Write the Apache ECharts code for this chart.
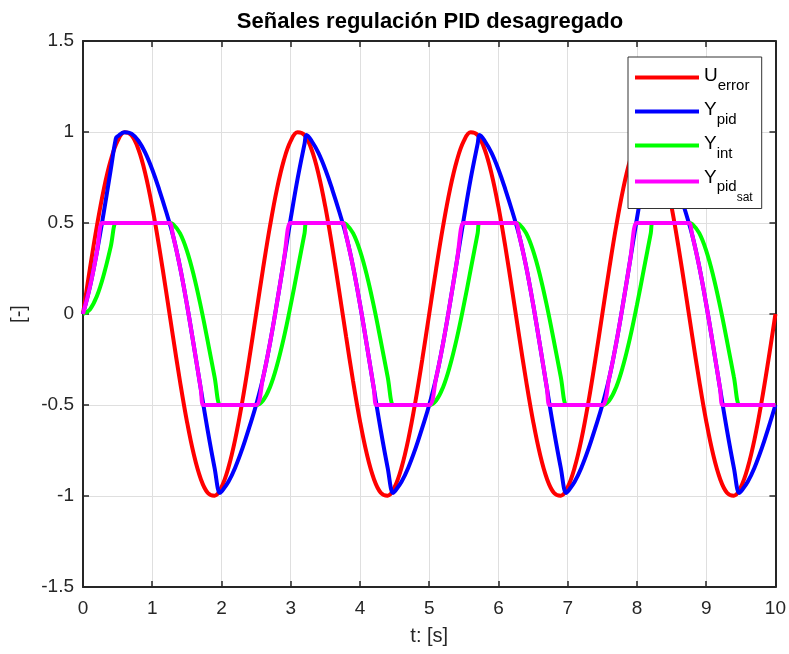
<!DOCTYPE html>
<html>
<head>
<meta charset="utf-8">
<script src="https://cdn.jsdelivr.net/npm/echarts@6/dist/echarts.min.js"></script>
<style>
html,body{margin:0;padding:0;background:#fff;}
#chart{width:789px;height:654px;}
</style>
</head>
<body>
<div id="chart"></div>
<script>
// time samples [s]
const t = [
  0,0.1,0.2,0.3,0.4,0.5,0.6,0.7,0.8,0.9,
  1,1.1,1.2,1.3,1.4,1.5,1.6,1.7,1.8,1.9,
  2,2.1,2.2,2.3,2.4,2.5,2.6,2.7,2.8,2.9,
  3,3.1,3.2,3.3,3.4,3.5,3.6,3.7,3.8,3.9,
  4,4.1,4.2,4.3,4.4,4.5,4.6,4.7,4.8,4.9,
  5,5.1,5.2,5.3,5.4,5.5,5.6,5.7,5.8,5.9,
  6,6.1,6.2,6.3,6.4,6.5,6.6,6.7,6.8,6.9,
  7,7.1,7.2,7.3,7.4,7.5,7.6,7.7,7.8,7.9,
  8,8.1,8.2,8.3,8.4,8.5,8.6,8.7,8.8,8.9,
  9,9.1,9.2,9.3,9.4,9.5,9.6,9.7,9.8,9.9,
  10
];

// U_error
const uError = [
  0,0.249,0.482,0.685,0.844,0.951,0.998,0.982,0.905,0.771,0.588,0.368,0.125,-0.125,-0.368,-0.588,-0.771,-0.905,-0.982,-0.998,-0.951,-0.844,-0.685,-0.482,-0.249,
  0,0.249,0.482,0.685,0.844,0.951,0.998,0.982,0.905,0.771,0.588,0.368,0.125,-0.125,-0.368,-0.588,-0.771,-0.905,-0.982,-0.998,-0.951,-0.844,-0.685,-0.482,-0.249,
  0,0.249,0.482,0.685,0.844,0.951,0.998,0.982,0.905,0.771,0.588,0.368,0.125,-0.125,-0.368,-0.588,-0.771,-0.905,-0.982,-0.998,-0.951,-0.844,-0.685,-0.482,-0.249,
  0,0.249,0.482,0.685,0.844,0.951,0.998,0.982,0.905,0.771,0.588,0.368,0.125,-0.125,-0.368,-0.588,-0.771,-0.905,-0.982,-0.998,-0.951,-0.844,-0.685,-0.482,-0.249,
  0
];

// Y_pid
const yPid = [
  0,0.149,0.339,0.558,0.792,0.976,0.999,0.991,0.952,0.885,0.794,0.684,0.563,0.431,0.260,0.054,-0.174,-0.409,-0.638,-0.845,-0.976,-0.922,-0.842,-0.741,-0.624,
  -0.5,-0.351,-0.161,0.058,0.292,0.525,0.745,0.936,0.952,0.885,0.794,0.684,0.563,0.431,0.260,0.054,-0.174,-0.409,-0.638,-0.845,-0.976,-0.922,-0.842,-0.741,-0.624,
  -0.5,-0.351,-0.161,0.058,0.292,0.525,0.745,0.936,0.952,0.885,0.794,0.684,0.563,0.431,0.260,0.054,-0.174,-0.409,-0.638,-0.845,-0.976,-0.922,-0.842,-0.741,-0.624,
  -0.5,-0.351,-0.161,0.058,0.292,0.525,0.745,0.936,0.952,0.885,0.794,0.684,0.563,0.431,0.260,0.054,-0.174,-0.409,-0.638,-0.845,-0.976,-0.922,-0.842,-0.741,-0.624,
  -0.5
];
const yPidPeaks = [
  [0.474,0.964],[1.978,-0.983],[3.228,0.983],[4.478,-0.983],
  [5.728,0.983],[6.978,-0.983],[8.228,0.983],[9.478,-0.983]
];

// Y_int
const yInt = [
  0,0.025,0.098,0.216,0.369,0.5,0.5,0.5,0.5,0.5,0.5,0.5,0.5,0.494,0.444,0.348,0.212,0.043,-0.147,-0.346,-0.5,-0.5,-0.5,-0.5,-0.5,
  -0.5,-0.475,-0.402,-0.284,-0.131,0.050,0.246,0.445,0.5,0.5,0.5,0.5,0.5,0.494,0.444,0.348,0.212,0.043,-0.147,-0.346,-0.5,-0.5,-0.5,-0.5,-0.5,
  -0.5,-0.475,-0.402,-0.284,-0.131,0.050,0.246,0.445,0.5,0.5,0.5,0.5,0.5,0.494,0.444,0.348,0.212,0.043,-0.147,-0.346,-0.5,-0.5,-0.5,-0.5,-0.5,
  -0.5,-0.475,-0.402,-0.284,-0.131,0.050,0.246,0.445,0.5,0.5,0.5,0.5,0.5,0.494,0.444,0.348,0.212,0.043,-0.147,-0.346,-0.5,-0.5,-0.5,-0.5,-0.5,
  -0.5
];
const yIntCorners = [
  [0.474,0.5],[1.25,0.5],[1.978,-0.5],
  [3.228,0.5],[3.75,0.5],[4.478,-0.5],
  [5.728,0.5],[6.25,0.5],[6.978,-0.5],
  [8.228,0.5],[8.75,0.5],[9.478,-0.5]
];

// Y_pid_sat
const yPidSat = [
  0,0.149,0.339,0.5,0.5,0.5,0.5,0.5,0.5,0.5,0.5,0.5,0.5,0.431,0.260,0.054,-0.174,-0.409,-0.5,-0.5,-0.5,-0.5,-0.5,-0.5,-0.5,
  -0.5,-0.351,-0.161,0.058,0.292,0.5,0.5,0.5,0.5,0.5,0.5,0.5,0.5,0.431,0.260,0.054,-0.174,-0.409,-0.5,-0.5,-0.5,-0.5,-0.5,-0.5,-0.5,
  -0.5,-0.351,-0.161,0.058,0.292,0.5,0.5,0.5,0.5,0.5,0.5,0.5,0.5,0.431,0.260,0.054,-0.174,-0.409,-0.5,-0.5,-0.5,-0.5,-0.5,-0.5,-0.5,
  -0.5,-0.351,-0.161,0.058,0.292,0.5,0.5,0.5,0.5,0.5,0.5,0.5,0.5,0.431,0.260,0.054,-0.174,-0.409,-0.5,-0.5,-0.5,-0.5,-0.5,-0.5,-0.5,
  -0.5
];
const yPidSatCorners = [
  [0.274,0.5],[1.25,0.5],[1.739,-0.5],
  [2.989,0.5],[3.75,0.5],[4.239,-0.5],
  [5.489,0.5],[6.25,0.5],[6.739,-0.5],
  [7.989,0.5],[8.75,0.5],[9.239,-0.5]
];

const seriesNames = ['U_error','Y_pid','Y_int','Y_pid_sat'];
const seriesColors = ['#ff0000','#0000ff','#00ff00','#ff00ff'];
const xTicks = [0,1,2,3,4,5,6,7,8,9,10];
const yTicks = [-1.5,-1,-0.5,0,0.5,1,1.5];

function build(vals, extra) {
  const pts = t.map((x, i) => [x, vals[i]]);
  if (extra) extra.forEach(p => pts.push(p));
  pts.sort((a, b) => a[0] - b[0]);
  return pts;
}

const FONT = 'Liberation Sans, Arial, sans-serif';
const AX = '#262626';

const chart = echarts.init(document.getElementById('chart'), null, {renderer: 'canvas'});

const legendLabels = {
  'U_error': '{m|U}{s|error}',
  'Y_pid': '{m|Y}{s|pid}',
  'Y_int': '{m|Y}{s|int}',
  'Y_pid_sat': '{m4|Y}{s4|pid}{ss|sat}'
};

function axisCommon(pos, showLabel, isX) {
  return {
    type: 'value',
    position: pos,
    min: isX ? xTicks[0] : yTicks[0],
    max: isX ? xTicks[xTicks.length - 1] : yTicks[yTicks.length - 1],
    interval: isX ? 1 : 0.5,
    axisLine: {show: true, onZero: false, lineStyle: {color: AX, width: 2}},
    axisTick: {show: true, inside: true, length: 6, lineStyle: {color: AX, width: 1.5}},
    axisLabel: {show: showLabel, color: AX, fontSize: 19, fontFamily: FONT, margin: isX ? 12 : 9},
    splitLine: {show: showLabel, lineStyle: {color: '#dfdfdf', width: 1}}
  };
}

const xMain = Object.assign(axisCommon('bottom', true, true), {
  name: 't: [s]', nameLocation: 'middle', nameGap: 39,
  nameTextStyle: {color: AX, fontSize: 20, fontFamily: FONT}
});
const yMain = Object.assign(axisCommon('left', true, false), {
  name: '[-]', nameLocation: 'middle', nameGap: 54, nameRotate: 90,
  nameTextStyle: {color: AX, fontSize: 20, fontFamily: FONT}
});

const option = {
  animation: false,
  backgroundColor: '#ffffff',
  title: {
    text: 'Señales regulación PID desagregado',
    left: 425,
    top: 6,
    textAlign: 'center',
    textStyle: {fontFamily: FONT, fontWeight: 'bold', fontSize: 22, color: '#000'}
  },
  grid: {left: 83, right: 11, top: 41, bottom: 67, containLabel: false},
  xAxis: [xMain, axisCommon('top', false, true)],
  yAxis: [yMain, axisCommon('right', false, false)],
  legend: {
    orient: 'vertical',
    left: 628,
    top: 57,
    padding: [9, 9, 5, 7],
    itemGap: 7,
    itemWidth: 64,
    itemHeight: 4,
    icon: 'rect',
    backgroundColor: '#ffffff',
    borderColor: '#333333',
    borderWidth: 1,
    borderRadius: 0,
    data: seriesNames,
    formatter: name => legendLabels[name],
    textStyle: {
      fontFamily: FONT, color: '#000',
      rich: {
        m: {fontSize: 19, fontFamily: FONT, color: '#000', padding: [0, 0, 4, 0]},
        s: {fontSize: 15, fontFamily: FONT, color: '#000', padding: [16, 0, 0, 0]},
        m4: {fontSize: 19, fontFamily: FONT, color: '#000', padding: [0, 0, 8, 0]},
        s4: {fontSize: 15, fontFamily: FONT, color: '#000', padding: [10, 0, 0, 0]},
        ss: {fontSize: 12, fontFamily: FONT, color: '#000', padding: [32, 0, 0, 0]}
      }
    }
  },
  series: [
    {name: seriesNames[0], data: build(uError)},
    {name: seriesNames[1], data: build(yPid, yPidPeaks)},
    {name: seriesNames[2], data: build(yInt, yIntCorners)},
    {name: seriesNames[3], data: build(yPidSat, yPidSatCorners)}
  ].map((s, i) => Object.assign({
    type: 'line',
    xAxisIndex: 0,
    yAxisIndex: 0,
    showSymbol: false,
    symbol: 'none',
    smooth: 0.4,
    lineStyle: {width: 4, color: seriesColors[i]},
    itemStyle: {color: seriesColors[i]},
    z: 2 + i
  }, s))
};

chart.setOption(option);
</script>
</body>
</html>
